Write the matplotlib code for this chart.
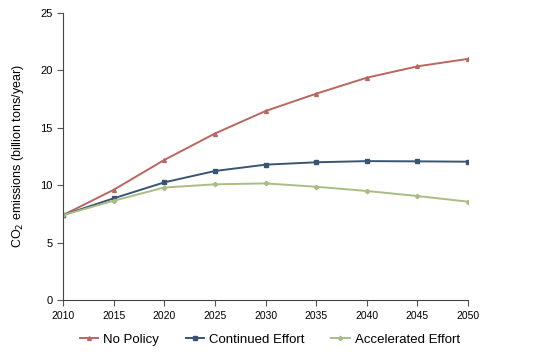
import matplotlib
matplotlib.use("Agg")
import matplotlib.pyplot as plt

plt.rcParams["font.family"] = ["Liberation Sans", "DejaVu Sans"]

# Emission scenarios
years = [2010, 2015, 2020, 2025, 2030, 2035, 2040, 2045, 2050]
no_policy = [7.4, 9.6, 12.2, 14.5, 16.46, 17.97, 19.36, 20.35, 21.0]
continued = [7.4, 8.86, 10.25, 11.24, 11.79, 12.0, 12.1, 12.08, 12.05]
accelerated = [7.4, 8.65, 9.8, 10.08, 10.16, 9.87, 9.5, 9.06, 8.57]

labels = ["No Policy", "Continued Effort", "Accelerated Effort"]
colors = ["#BA6661", "#3A5573", "#A9BD84"]
markers = ["^", "s", "P"]

fig = plt.figure(figsize=(5.43, 3.59), dpi=100)
ax = fig.add_axes([0.116, 0.164, 0.746, 0.8])

for vals, lab, c, m in zip([no_policy, continued, accelerated], labels, colors, markers):
    ax.plot(years, vals, color=c, marker=m, markersize=2.8, linewidth=1.4, label=lab)

ax.set_xlim(2010, 2050)
ax.set_ylim(0, 25)
ax.set_xticks(years)
ax.set_yticks([0, 5, 10, 15, 20, 25])
ax.tick_params(axis="x", labelsize=7.5, length=4, color="#555555")
ax.tick_params(axis="y", labelsize=8, length=4, color="#555555")
for s in ["top", "right"]:
    ax.spines[s].set_visible(False)
for s in ["left", "bottom"]:
    ax.spines[s].set_color("#444444")
    ax.spines[s].set_linewidth(0.8)
ax.set_ylabel(r"CO$_2$ emissions (billion tons/year)", fontsize=9, labelpad=10)

fig.legend(loc="center", bbox_to_anchor=(0.497, 0.053), ncol=3, frameon=False,
           fontsize=9.5, handlelength=1.4, columnspacing=2.0, handletextpad=0.4)

fig.savefig("out.png", dpi=100)
